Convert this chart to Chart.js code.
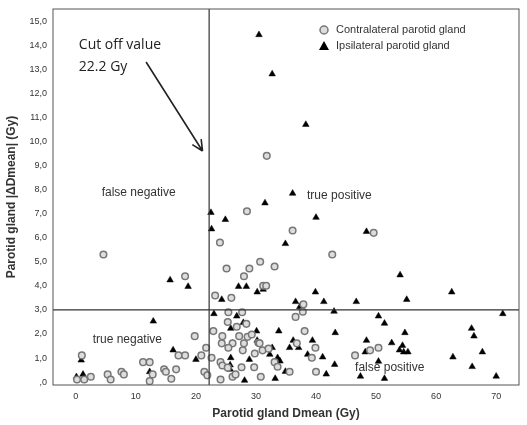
<!DOCTYPE html>
<html><head><meta charset="utf-8">
<script src="https://cdn.jsdelivr.net/npm/chart.js@4"></script>
<style>html,body{margin:0;padding:0;background:#fff}#w{width:527px;height:425px}</style>
</head><body><div id="w"><canvas id="c"></canvas></div>
<script>
const contraX=[31.8,28.5,36.1,49.6,24,4.6,42.7,30.7,25.1,28.9,33.1,28,18.2,31.2,31.7,23.2,25.9,37.9,37.8,36.6,25.4,27.7,25.3,28.4,26.8,22.9,24.4,27.2,28.6,29.3,30.4,38.1,19.8,24.3,26.1,28,25.4,27.8,30.6,31.1,32.1,29.8,36.8,39.9,21.7,20.9,22.6,17.1,18.2,1,11.2,12.3,39.3,33.1,24.1,24.4,25.3,27.6,29.7,33.6,35.6,40,46.5,49,50.4,16.7,14.7,15,7.6,8,5.3,5.8,2.5,1.4,0.2,12.8,12.3,15.9,21.4,21.9,24.1,26.1,26.6,30.8];
const contraY=[9.4,7.1,6.3,6.2,5.8,5.3,5.3,5.0,4.72,4.72,4.8,4.4,4.4,4.0,4.0,3.6,3.5,3.23,2.92,2.71,2.9,2.9,2.5,2.42,2.3,2.12,1.91,1.91,1.88,1.98,1.63,2.12,1.91,1.61,1.61,1.61,1.43,1.32,1.61,1.32,1.39,1.19,1.61,1.43,1.43,1.11,1.01,1.11,1.11,1.11,0.83,0.83,1.01,0.83,0.83,0.69,0.6,0.62,0.62,0.64,0.43,0.43,1.11,1.32,1.43,0.53,0.53,0.43,0.43,0.32,0.32,0.11,0.22,0.11,0.11,0.32,0.04,0.14,0.43,0.28,0.11,0.22,0.32,0.22];
const ipsiX=[30.5,32.7,38.3,36.1,31.5,22.5,24.9,40,22.6,48.4,34.9,54,15.7,18.7,27.1,28.4,30.2,31.2,39.9,62.6,24.3,36.6,41.3,46.7,55.1,37.3,43,23,26.8,27.9,50.4,51.4,71.1,12.9,25.8,30.1,33.8,43.2,54.8,65.9,66.3,26.1,30.2,36.2,39.4,48.4,52.6,35.6,37.1,32.7,54.4,53.9,54.6,55.3,48.2,67.7,38.6,32.3,16.2,0.9,20,25.8,28.9,33.6,34,41.1,62.8,12.3,25.7,25.7,50.4,43.1,34.9,41.7,66,47.4,70,51.4,33.2,28.1,1.2,0.1];
const ipsiY=[14.43,12.8,10.7,7.84,7.44,7.04,6.75,6.84,6.36,6.25,5.75,4.45,4.24,3.97,3.97,3.97,3.74,3.85,3.74,3.74,3.43,3.34,3.34,3.34,3.43,3.13,2.94,2.84,2.74,2.47,2.74,2.44,2.84,2.53,2.23,2.12,2.12,2.05,2.05,2.23,1.91,1.61,1.73,1.73,1.73,1.73,1.63,1.43,1.43,1.43,1.52,1.33,1.25,1.25,1.25,1.25,1.15,1.15,1.33,0.91,0.94,1.01,0.94,1.01,0.87,1.04,1.04,0.43,0.71,0.53,0.86,0.73,0.44,0.33,0.64,0.24,0.24,0.15,0.15,0.07,0.32,0.22];
const xTicks=[0,10,20,30,40,50,60,70];
const yTicks=[0,1,2,3,4,5,6,7,8,9,10,11,12,13,14,15];
const cutoffX=22.2, cutoffY=3.0;
const pts=(xs,ys)=>xs.map((x,i)=>({x,y:ys[i]}));
const fmtY=v=>v===0?',0':(v.toFixed(1).replace('.',','));
const overlay={id:'overlay',afterDatasetsDraw(ch){
  const {ctx,chartArea:a,scales:{x,y}}=ch;
  ctx.save();
  ctx.strokeStyle='#333';ctx.lineWidth=1.2;
  ctx.beginPath();ctx.moveTo(x.getPixelForValue(cutoffX),a.top);ctx.lineTo(x.getPixelForValue(cutoffX),a.bottom);
  ctx.moveTo(a.left,y.getPixelForValue(cutoffY));ctx.lineTo(a.right,y.getPixelForValue(cutoffY));ctx.stroke();
  ctx.strokeStyle='#555';ctx.lineWidth=1;ctx.strokeRect(a.left,a.top,a.right-a.left,a.bottom-a.top);
  ctx.fillStyle='#333';ctx.font='12px "Liberation Sans", Arial';ctx.textBaseline='middle';
  const t=(s,vx,vy)=>ctx.fillText(s,x.getPixelForValue(vx),y.getPixelForValue(vy));
  t('false negative',4.3,7.85);t('true positive',38.5,7.75);t('true negative',2.8,1.75);t('false positive',46.5,0.6);
  ctx.font='14px "Open Sans", "DejaVu Sans"';ctx.fillStyle='#222';
  t('Cut off value',0.5,14.0);t('22.2 Gy',0.5,13.1);
  const x1=x.getPixelForValue(11.7),y1=y.getPixelForValue(13.3),x2=x.getPixelForValue(21.1),y2=y.getPixelForValue(9.6);
  ctx.strokeStyle='#222';ctx.lineWidth=1.6;ctx.beginPath();ctx.moveTo(x1,y1);ctx.lineTo(x2,y2);
  const ang=Math.atan2(y2-y1,x2-x1);
  ctx.moveTo(x2,y2);ctx.lineTo(x2-12*Math.cos(ang-0.45),y2-12*Math.sin(ang-0.45));
  ctx.moveTo(x2,y2);ctx.lineTo(x2-12*Math.cos(ang+0.45),y2-12*Math.sin(ang+0.45));ctx.stroke();
  const lx=a.right-200,ly=a.top+21;
  ctx.lineWidth=1.5;ctx.strokeStyle='#777';ctx.fillStyle='#ddd';
  ctx.beginPath();ctx.arc(lx+5,ly,4,0,Math.PI*2);ctx.fill();ctx.stroke();
  ctx.fillStyle='#000';ctx.beginPath();ctx.moveTo(lx+5,ly+11);ctx.lineTo(lx+10,ly+20);ctx.lineTo(lx,ly+20);ctx.closePath();ctx.fill();
  ctx.fillStyle='#333';ctx.font='11px "Liberation Sans", Arial';
  ctx.fillText('Contralateral parotid gland',lx+17,ly);ctx.fillText('Ipsilateral parotid gland',lx+17,ly+16);
  ctx.restore();}};
new Chart(document.getElementById('c'),{type:'scatter',
 data:{datasets:[
  {label:'Contralateral parotid gland',data:pts(contraX,contraY),pointStyle:'circle',pointRadius:3.3,borderColor:'#777',backgroundColor:'#ddd',borderWidth:1.5},
  {label:'Ipsilateral parotid gland',data:pts(ipsiX,ipsiY),pointStyle:'triangle',pointRadius:3.8,borderColor:'#000',backgroundColor:'#000',borderWidth:0.5}]},
 plugins:[overlay],
 options:{responsive:true,maintainAspectRatio:false,animation:false,
  layout:{padding:{top:9,right:8,left:0,bottom:0}},
  plugins:{legend:{display:false},tooltip:{enabled:false}},
  scales:{
   x:{type:'linear',min:-3.8,max:73.8,afterBuildTicks:s=>{s.ticks=xTicks.map(v=>({value:v}))},
      grid:{display:false,drawTicks:true,tickLength:4,tickColor:'#555'},border:{display:false},
      ticks:{color:'#333',font:{size:9,family:'"Liberation Sans", Arial'},padding:2},
      title:{display:true,text:'Parotid gland Dmean (Gy)',color:'#333',font:{size:12,weight:'bold',family:'"Liberation Sans", Arial'},padding:{top:4}},
      afterFit:s=>{s.height=40}},
   y:{type:'linear',min:-0.12,max:15.5,afterBuildTicks:s=>{s.ticks=yTicks.map(v=>({value:v}))},
      grid:{display:false,tickLength:4,tickColor:'#555'},border:{display:false},
      ticks:{color:'#333',font:{size:9,family:'"Liberation Sans", Arial'},padding:2,callback:v=>fmtY(v)},
      title:{display:true,text:'Parotid gland |ΔDmean| (Gy)',color:'#333',font:{size:12,weight:'bold',family:'"Liberation Sans", Arial'},padding:{bottom:2}},
      afterFit:s=>{s.width=53}}}}});
</script></body></html>
